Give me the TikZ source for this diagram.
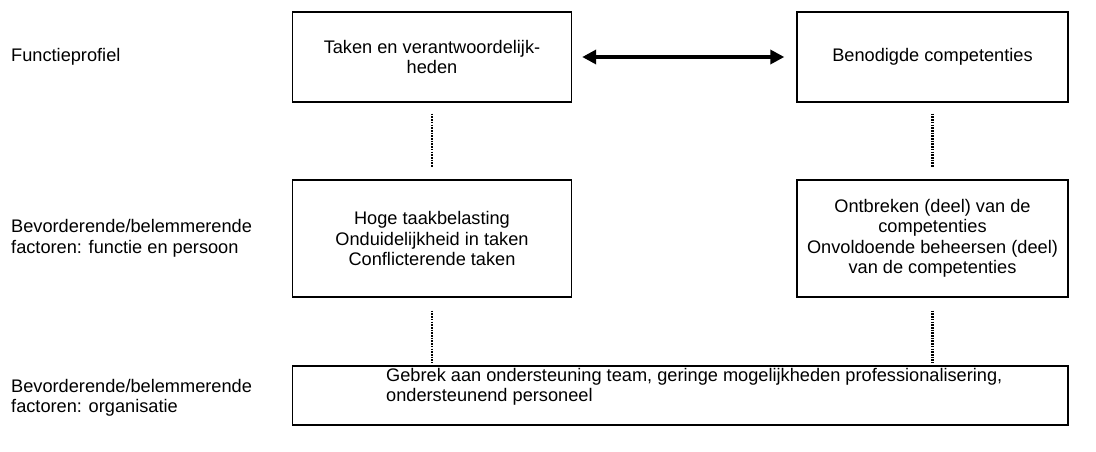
\documentclass[tikz,border=0pt]{standalone}
\usepackage{fontspec}
\setmainfont{Liberation Sans}
\usetikzlibrary{arrows.meta}
\begin{document}
\begin{tikzpicture}[x=1pt,y=-1pt,
  every node/.style={font=\fontsize{18.2}{20.5}\selectfont, inner sep=0pt},
  box/.style={draw=black, line width=1.4pt, align=center},
  lbl/.style={anchor=west, align=left},
  dotline/.style={line width=2.2pt, dash pattern=on 1.6pt off 1.1pt},
  dbl/.style={line width=3.4pt, {Triangle[length=14pt,width=14pt]}-{Triangle[length=14pt,width=14pt]}}
]
\useasboundingbox (0,0) rectangle (1096,451);
% left labels
\node[lbl] (l1) at (11,57) {Functieprofiel};
\node[lbl] (l2) at (11,238.5) {Bevorderende/belemmerende\\factoren: functie en persoon};
\node[lbl] (l3) at (11,398) {Bevorderende/belemmerende\\factoren: organisatie};
% boxes
\node[box, minimum width=279pt, minimum height=90pt] (b1) at (432,57) {Taken en verantwoordelijk-\\heden};
\node[box, minimum width=271pt, minimum height=90pt] (b2) at (932.5,57) {Benodigde competenties};
\node[box, minimum width=279pt, minimum height=117pt] (b3) at (432,238.5) {Hoge taakbelasting\\Onduidelijkheid in taken\\Conflicterende taken};
\node[box, minimum width=271pt, minimum height=117pt] (b4) at (932.5,238.5) {Ontbreken (deel) van de\\competenties\\Onvoldoende beheersen (deel)\\van de competenties};
\node[box, minimum width=775.5pt, minimum height=59pt] (b5) at (680.25,395.5) {};
\node[lbl] (t5) at (386,387) {Gebrek aan ondersteuning team, geringe mogelijkheden professionalisering,\\ondersteunend personeel};
% connectors
\draw[dbl, shorten <=10pt, shorten >=12pt] (b1.east) -- (b2.west);
\draw[dotline, shorten <=11pt, shorten >=12pt] (b1.south) -- (b3.north);
\draw[dotline, shorten <=11pt, shorten >=12pt] (b2.south) -- (b4.north);
\draw[dotline, shorten <=13pt, shorten >=3pt] (b3.south) -- (b3.south |- b5.north);
\draw[dotline, shorten <=13pt, shorten >=3pt] (b4.south) -- (b4.south |- b5.north);
\end{tikzpicture}
\end{document}
